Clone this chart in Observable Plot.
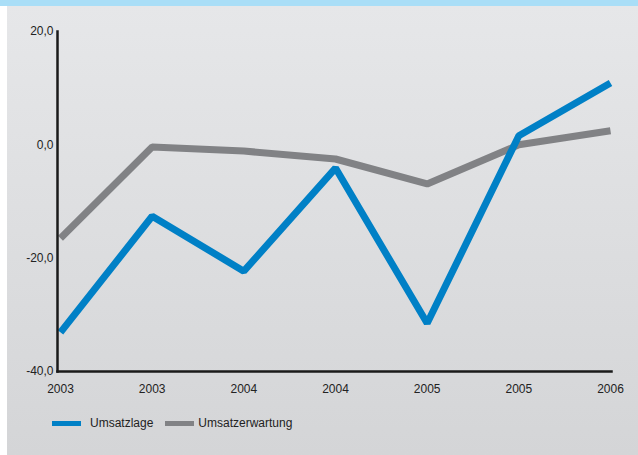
<!DOCTYPE html>
<html>
<head>
<meta charset="utf-8">
<script src="https://cdn.jsdelivr.net/npm/d3@7"></script>
<script src="https://cdn.jsdelivr.net/npm/@observablehq/plot@0.6"></script>
<style>
  html, body { margin: 0; padding: 0; background: #ffffff; }
  #wrap { position: relative; width: 638px; height: 455px; overflow: hidden; font-family: "Liberation Sans", Arial, sans-serif; }
  #band { position: absolute; left: 0; top: 0; width: 638px; height: 6px; background: #a9def7; }
  #panel { position: absolute; left: 7px; top: 6px; width: 631px; height: 449px;
           background: linear-gradient(#e6e7e9, #d4d5d7); }
  #chart { position: absolute; left: 0; top: 0; }
  #legend { position: absolute; left: 52px; top: 416px; display: flex; align-items: center; font-size: 12px; color: #222; }
  .sw { display: inline-block; width: 29px; height: 5px; }
  .item { display: flex; align-items: center; margin-right: 12px; }
</style>
</head>
<body>
<div id="wrap">
  <div id="band"></div>
  <div id="panel"></div>
  <div id="chart"></div>
  <div id="legend"></div>
</div>
<script>
const periods = ["2003", "2003", "2004", "2004", "2005", "2005", "2006"];
const umsatzlage = [-33.1, -12.6, -22.3, -4.1, -31.5, 1.6, 10.9];
const umsatzerwartung = [-16.5, -0.4, -1.1, -2.5, -6.9, 0.0, 2.5];
const seriesNames = ["Umsatzlage", "Umsatzerwartung"];
const seriesColors = ["#0080c6", "#818285"];
const yTicks = [-40, -20, 0, 20];

const data = [];
periods.forEach((p, i) => {
  data.push({i, series: seriesNames[0], value: umsatzlage[i]});
  data.push({i, series: seriesNames[1], value: umsatzerwartung[i]});
});

const fmt = d => d.toFixed(1).replace(".", ",");

const chart = Plot.plot({
  width: 638,
  height: 400,
  marginLeft: 57,
  marginRight: 27,
  marginTop: 31,
  marginBottom: 29,
  style: {background: "transparent", fontFamily: "Liberation Sans, Arial, sans-serif", fontSize: "12px", color: "#222"},
  x: {type: "linear", domain: [0, periods.length - 1], range: [60, 610]},
  y: {domain: [-40, 20]},
  color: {domain: seriesNames, range: seriesColors},
  marks: [
    Plot.line(data.filter(d => d.series === seriesNames[1]), {x: "i", y: "value", stroke: seriesColors[1], strokeWidth: 7, strokeLinejoin: "miter", strokeLinecap: "butt"}),
    Plot.line(data.filter(d => d.series === seriesNames[0]), {x: "i", y: "value", stroke: seriesColors[0], strokeWidth: 7, strokeLinejoin: "miter", strokeLinecap: "butt"}),
    Plot.frame({anchor: "left", stroke: "#1a1a1a", strokeWidth: 2.5}),
    Plot.frame({anchor: "bottom", stroke: "#1a1a1a", strokeWidth: 2.5}),
    Plot.axisY({ticks: yTicks, tickFormat: fmt, tickSize: 0, tickPadding: 4, label: null, fill: "#222"}),
    Plot.axisX({ticks: d3.range(periods.length), tickFormat: i => periods[i], tickSize: 0, tickPadding: 13, label: null, fill: "#222"})
  ]
});
document.getElementById("chart").appendChild(chart);

const gaps = [9, 4];
const legend = document.getElementById("legend");
seriesNames.forEach((name, k) => {
  const item = document.createElement("div");
  item.className = "item";
  const sw = document.createElement("span");
  sw.className = "sw";
  sw.style.background = seriesColors[k];
  sw.style.marginRight = gaps[k] + "px";
  item.appendChild(sw);
  item.appendChild(document.createTextNode(name));
  legend.appendChild(item);
});
</script>
</body>
</html>
